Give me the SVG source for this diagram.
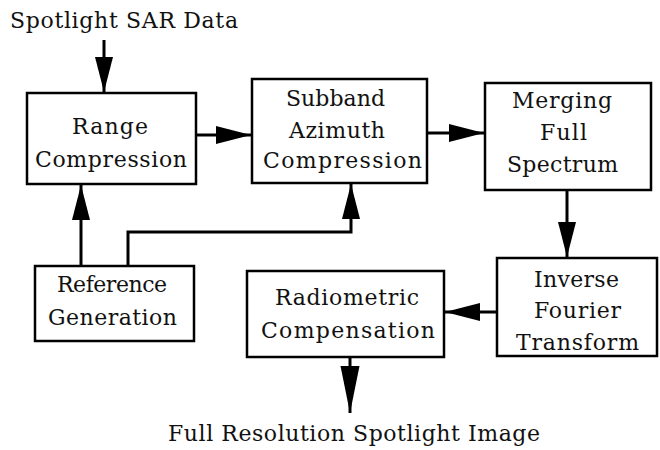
<svg xmlns="http://www.w3.org/2000/svg" width="660" height="450" viewBox="0 0 660 450">
<style>
.box{fill:#fff;stroke:#000;stroke-width:2.5}
.t{font-family:"DejaVu Serif","Liberation Serif",serif;font-size:22px;fill:#111}
.c{fill:none;stroke:#000;stroke-width:3}
</style>
<defs>
<marker id="ah" markerUnits="userSpaceOnUse" markerWidth="36" markerHeight="20" refX="35" refY="9" orient="auto">
<path d="M0,0 L35,9 L0,18 z" fill="#000"/>
</marker>
<marker id="ahl" markerUnits="userSpaceOnUse" markerWidth="48" markerHeight="20" refX="47" refY="9.5" orient="auto">
<path d="M0,0 L47,9.5 L0,19 z" fill="#000"/>
</marker>
</defs>
<rect width="660" height="450" fill="#fff"/>
<g id="connectors">
<line class="c" x1="104" y1="40" x2="104" y2="92" marker-end="url(#ah)"/>
<line class="c" x1="196" y1="135" x2="251" y2="135" marker-end="url(#ah)"/>
<line class="c" x1="427" y1="133" x2="484" y2="133" marker-end="url(#ah)"/>
<line class="c" x1="567" y1="190" x2="567" y2="257" marker-end="url(#ah)"/>
<line class="c" x1="497" y1="312" x2="445" y2="312" marker-end="url(#ah)"/>
<line class="c" x1="350" y1="357" x2="350" y2="413" marker-end="url(#ahl)"/>
<line class="c" x1="81" y1="266" x2="81" y2="185" marker-end="url(#ah)"/>
<path class="c" d="M128,266 V232 H351 V184" marker-end="url(#ah)"/>
</g>
<g id="input-label">
<text class="t" x="10" y="28" textLength="228">Spotlight SAR Data</text>
</g>
<g id="range-compression">
<rect class="box" x="27" y="93" width="169" height="91"/>
<text class="t" x="72" y="134" textLength="76">Range</text>
<text class="t" x="35" y="167" textLength="152">Compression</text>
</g>
<g id="subband-azimuth">
<rect class="box" x="252" y="79" width="175" height="104"/>
<text class="t" x="286" y="106" textLength="99">Subband</text>
<text class="t" x="289" y="138" textLength="96">Azimuth</text>
<text class="t" x="263" y="168" textLength="159">Compression</text>
</g>
<g id="merging">
<rect class="box" x="485" y="83" width="166" height="107"/>
<text class="t" x="512" y="108" textLength="100">Merging</text>
<text class="t" x="540" y="140" textLength="47">Full</text>
<text class="t" x="507" y="172" textLength="111">Spectrum</text>
</g>
<g id="inverse-fourier">
<rect class="box" x="497" y="258" width="160" height="98"/>
<text class="t" x="534" y="287" textLength="85">Inverse</text>
<text class="t" x="534" y="318" textLength="87">Fourier</text>
<text class="t" x="516" y="350" textLength="123">Transform</text>
</g>
<g id="radiometric">
<rect class="box" x="247" y="271" width="197" height="86"/>
<text class="t" x="275" y="305" textLength="144">Radiometric</text>
<text class="t" x="261" y="338" textLength="174">Compensation</text>
</g>
<g id="reference-generation">
<rect class="box" x="35" y="266" width="159" height="75"/>
<text class="t" x="57" y="292" textLength="110">Reference</text>
<text class="t" x="48" y="325" textLength="129">Generation</text>
</g>
<g id="output-label">
<text class="t" x="168" y="441" textLength="372">Full Resolution Spotlight Image</text>
</g>
</svg>
